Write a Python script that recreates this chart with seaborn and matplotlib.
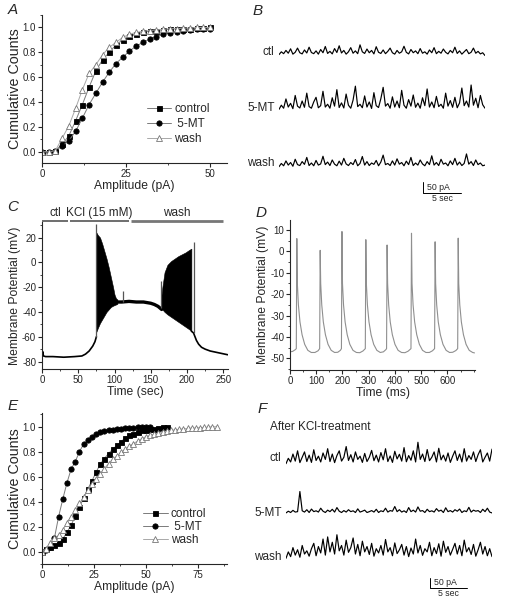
import numpy as np
import matplotlib
matplotlib.use("Agg")
import matplotlib.pyplot as plt
import seaborn as sns
from matplotlib.ticker import MultipleLocator, FixedLocator

# === A: cumulative amplitude distributions (bins of 2 pA) ===
amp_a = [0, 2, 4, 6, 8, 10, 12, 14, 16, 18, 20, 22, 24, 26, 28, 30, 32, 34, 36, 38, 40, 42, 44, 46, 48, 50]
ctl_a = [0, 0, 0.01, 0.06, 0.13, 0.25, 0.38, 0.52, 0.65, 0.74, 0.80, 0.86, 0.90, 0.93, 0.95, 0.96, 0.97,
         0.975, 0.98, 0.985, 0.99, 0.99, 0.99, 0.995, 0.995, 1.0]
mt_a = [0, 0, 0.01, 0.045, 0.09, 0.165, 0.27, 0.38, 0.47, 0.56, 0.64, 0.71, 0.76, 0.81, 0.85, 0.88, 0.905,
        0.925, 0.945, 0.955, 0.965, 0.975, 0.98, 0.985, 0.985, 0.99]
wash_a = [0, 0, 0.01, 0.11, 0.21, 0.35, 0.50, 0.63, 0.70, 0.78, 0.84, 0.88, 0.92, 0.945, 0.96, 0.97, 0.975,
          0.98, 0.985, 0.99, 0.99, 0.995, 0.995, 1.0, 1.0, 1.0]

# === E: cumulative distributions after KCl ===
amp_e_ctl = [0, 2, 4, 6, 8, 10, 12, 14, 16, 18, 20, 22, 24, 26, 28, 30, 32, 34, 36, 38, 40, 42, 44, 46, 48,
             50, 52, 54, 56, 58, 60]
ctl_e = [0, 0.02, 0.04, 0.05, 0.065, 0.10, 0.155, 0.21, 0.285, 0.355, 0.43, 0.50, 0.565, 0.635, 0.70, 0.745,
         0.785, 0.82, 0.85, 0.88, 0.91, 0.93, 0.945, 0.96, 0.97, 0.975, 0.98, 0.985, 0.99, 0.995, 1.0]
amp_e_mt = [0, 2, 4, 6, 8, 10, 12, 14, 16, 18, 20, 22, 24, 26, 28, 30, 32, 34, 36, 38, 40, 42, 44, 46, 48, 50, 52]
mt_e = [0, 0.01, 0.04, 0.11, 0.28, 0.42, 0.55, 0.66, 0.72, 0.80, 0.86, 0.89, 0.92, 0.94, 0.96, 0.965, 0.97,
        0.975, 0.98, 0.985, 0.99, 0.99, 0.99, 0.995, 0.995, 1.0, 1.0]
amp_e_wash = [0, 2, 4, 6, 8, 10, 12, 14, 16, 18, 20, 22, 24, 26, 28, 30, 32, 34, 36, 38, 40, 42, 44, 46, 48,
              50, 52, 54, 56, 58, 60, 62, 64, 66, 68, 70, 72, 74, 76, 78, 80, 82, 84]
wash_e = [0, 0.02, 0.07, 0.105, 0.13, 0.17, 0.23, 0.28, 0.33, 0.385, 0.435, 0.49, 0.54, 0.585, 0.625, 0.665,
          0.705, 0.74, 0.765, 0.795, 0.82, 0.845, 0.865, 0.885, 0.905, 0.92, 0.93, 0.94, 0.95, 0.96, 0.965,
          0.97, 0.975, 0.98, 0.983, 0.986, 0.99, 0.99, 0.993, 0.995, 0.997, 1.0, 1.0]

# === C: membrane potential during KCl application (sec, mV) ===
c_pre_t = [0, 1, 2, 5, 15, 30, 45, 55, 60, 65, 70, 73, 75]
c_pre_v = [-74.5, -72, -75.5, -76, -76, -76.5, -76, -75.5, -74, -71.5, -67.5, -64, -60]
b1_t = [75, 77, 80, 83, 86, 89, 92, 95, 98, 100, 102, 104]
b1_top = [24, 22, 20, 15, 9, 3, -4, -12, -20, -26, -29, -30]
b1_bot = [-56, -53, -49, -46, -43, -40, -38, -36, -35, -34.5, -34, -33.5]
plat_t = [102, 110, 120, 130, 140, 150, 155, 160, 163, 165]
plat_v = [-32, -32, -31.5, -32, -32, -33, -34, -35.5, -37, -38]
b2_t = [164, 166, 169, 173, 178, 183, 188, 193, 198, 203, 206]
b2_top = [-30, -20, -8, -2, 1, 3, 5, 6.5, 8, 10, 11]
b2_bot = [-37, -38, -40, -42, -44, -46, -48, -50, -52, -54, -55.5]
c_post_t = [206, 209, 211, 213, 216, 220, 225, 232, 240, 248, 256]
c_post_v = [-55.5, -57, -60, -63, -66, -68.5, -70, -71.5, -72.5, -73.5, -74.5]
c_spk_t = [75, 112, 164, 209]
c_spk_lo = [-60, -32, -37, -57]
c_spk_hi = [31, -23, -15, 16.5]
c_periods = ["ctl", "KCl (15 mM)", "wash"]
c_period_start = [0, 38, 123]
c_period_end = [36, 120.6, 249]

# === D: spontaneous firing (ms, mV) ===
d_t = [0, 10, 20, 24, 26, 28, 32, 38, 46, 56, 68, 81, 95, 107, 113,
       115, 117, 121, 127, 135, 145, 157, 170, 182, 192, 196,
       198, 200, 204, 210, 218, 228, 240, 253, 266, 278, 287,
       289, 291, 295, 301, 309, 319, 331, 344, 356, 365, 368,
       370, 372, 376, 382, 390, 400, 412, 425, 438, 450, 461,
       463, 465, 469, 475, 483, 493, 505, 518, 531, 543, 551,
       553, 555, 559, 565, 573, 583, 595, 608, 620, 632, 639,
       641, 643, 647, 653, 661, 671, 683, 696, 703]
d_v = [-47, -46.8, -46, -45.5, 6, -15, -25, -33, -39, -43.5, -46.3, -47.3, -47.3, -46.5, -45.5,
       0.5, -15, -25, -33, -39, -43.5, -46.3, -47.3, -47.2, -46.3, -45.5,
       9.3, -15, -25, -33, -39, -43.5, -46.3, -47.3, -47.4, -46.6, -45.5,
       5.5, -15, -25, -33, -39, -43.5, -46.3, -47.3, -47, -46, -45.5,
       3, -15, -25, -33, -39, -43.5, -46.3, -47.3, -47.4, -46.7, -45.5,
       8.5, -15, -25, -33, -39, -43.5, -46.3, -47.3, -47.3, -46.5, -45.5,
       4.5, -15, -25, -33, -39, -43.5, -46.3, -47.3, -47.2, -46.4, -45.5,
       6.2, -15, -25, -33, -39, -43.5, -46.3, -47.3, -47.5]

# === B / F: current traces (pA, ~28 s each) ===
trace_names = ["ctl", "5-MT", "wash"]
b_ctl = [0, 12, 4, 18, 6, 25, 2, 10, 28, 8, 3, 20, 7, 32, 9, 4, 16, 2, 22, 8, 35, 5, 14, 3, 26, 9, 38, 7, 18,
         2, 12, 30, 6, 16, 4, 42, 12, 5, 24, 8, 18, 3, 34, 10, 5, 20, 4, 14, 28, 8, 2, 18, 6, 12, 36, 10, 3,
         22, 8, 16, 4, 26, 6, 12, 2, 20, 8, 30, 4, 14, 6, 24, 10, 3, 18, 8, 32, 5, 16, 2, 12, 22, 4, 10, 28,
         6, 14, 3, 8, -4]
b_mt = [0, 18, 5, 45, 10, 26, 3, 60, 14, 6, 36, 9, 70, 12, 5, 32, 52, 7, 16, 78, 10, 22, 5, 50, 14, 85, 8, 28,
        6, 66, 18, 5, 40, 100, 12, 22, 7, 58, 10, 32, 4, 72, 16, 8, 46, 95, 14, 25, 5, 54, 10, 36, 7, 82, 18,
        5, 42, 14, 62, 9, 27, 5, 50, 16, 88, 10, 32, 7, 56, 12, 22, 5, 70, 14, 38, 9, 52, 7, 28, 92, 16, 36,
        10, 105, 18, 48, 7, 60, 20, 5]
b_wash = [0, 14, 4, 25, 7, 18, 2, 32, 9, 5, 22, 10, 40, 5, 16, 4, 27, 7, 12, 45, 9, 20, 5, 29, 11, 4, 24, 7,
          36, 12, 5, 18, 9, 31, 4, 14, 44, 7, 22, 5, 16, 10, 27, 4, 20, 50, 9, 14, 5, 25, 7, 34, 11, 18, 4,
          24, 9, 40, 5, 16, 7, 29, 12, 4, 22, 9, 47, 7, 18, 5, 32, 11, 16, 4, 25, 9, 36, 7, 20, 5, 14, 55,
          11, 22, 5, 29, 9, 16, 4, 7]
f_ctl = [0, 25, 8, 45, 12, 60, 5, 30, 55, 10, 40, 6, 65, 15, 35, 8, 50, 20, 70, 10, 45, 5, 38, 60, 12, 30,
         80, 15, 42, 8, 55, 20, 35, 6, 48, 10, 30, 62, 14, 40, 8, 52, 18, 70, 10, 36, 6, 58, 22, 44, 12, 75,
         9, 38, 16, 60, 8, 100, 20, 45, 10, 66, 14, 30, 55, 8, 72, 18, 40, 12, 50, 6, 35, 60, 15, 45, 8, 70,
         12, 38, 20, 55, 10, 42, 65, 8, 30, 50, 12, 68]
f_mt = [0, 8, 2, 12, 4, 6, 100, 10, 4, 15, 2, 18, 6, 10, 4, 22, 8, 2, 13, 6, 17, 4, 25, 8, 2, 11, 4, 15, 6,
        10, 2, 19, 4, 8, 13, 2, 6, 11, 4, 17, 2, 10, 6, 22, 4, 11, 8, 30, 6, 15, 4, 10, 2, 25, 6, 13, 4, 28,
        8, 11, 2, 17, 6, 10, 4, 20, 8, 13, 2, 24, 6, 11, 4, 15, 8, 18, 2, 10, 6, 26, 4, 13, 8, 11, 2, 17, 6,
        22, 4, 0]
f_wash = [0, 30, 8, 50, 15, 40, 5, 60, 20, 35, 10, 45, 70, 12, 55, 25, 90, 15, 100, 30, 75, 20, 110, 35, 60,
          15, 85, 28, 50, 95, 20, 65, 12, 80, 30, 55, 18, 70, 10, 45, 25, 60, 15, 88, 30, 50, 12, 72, 22, 40,
          65, 15, 55, 8, 48, 20, 90, 25, 60, 14, 45, 30, 75, 12, 50, 22, 68, 10, 80, 28, 55, 15, 42, 70, 20,
          60, 12, 85, 30, 50, 18, 65, 10, 40, 75, 20, 55, 12, 45, 8]

# === Estilo ===
sns.set_style("ticks")
plt.rcParams["font.family"] = ["Liberation Sans", "DejaVu Sans"]
plt.rcParams["axes.unicode_minus"] = False
plt.rcParams["axes.linewidth"] = 0.8

W, H = 507, 602
fig = plt.figure(figsize=(W / 100, H / 100), dpi=100)


def px_axes(x0, y0, x1, y1):
    # rectangle given in image pixels (top-left origin)
    return fig.add_axes([x0 / W, 1 - y1 / H, (x1 - x0) / W, (y1 - y0) / H])


def style_axis(ax, xmaj, xmin, ymaj, ymin):
    sns.despine(ax=ax)
    ax.xaxis.set_major_locator(MultipleLocator(xmaj))
    ax.xaxis.set_minor_locator(MultipleLocator(xmin))
    ax.yaxis.set_major_locator(MultipleLocator(ymaj))
    ax.yaxis.set_minor_locator(MultipleLocator(ymin))
    ax.tick_params(which="major", direction="out", length=3, width=0.8, labelsize=7, pad=1.2)
    ax.tick_params(which="minor", direction="out", length=1.6, width=0.6)


def cum_panel(ax, series, legend_xy, spacing):
    styles = [
        dict(marker="s", markersize=3.6, markerfacecolor="black", markeredgecolor="black", color="#7a7a7a"),
        dict(marker="o", markersize=3.8, markerfacecolor="black", markeredgecolor="black", color="#7a7a7a"),
        dict(marker="^", markersize=4.3, markerfacecolor="white", markeredgecolor="#777777", color="#a8a8a8"),
    ]
    for (x, y, lab), st in zip(series, styles):
        sns.lineplot(x=x, y=y, ax=ax, lw=0.7, markeredgewidth=0.6, label=lab,
                     estimator=None, sort=False, **st)
    ax.legend(loc="upper left", bbox_to_anchor=legend_xy, frameon=False, fontsize=8.5,
              borderpad=0, borderaxespad=0, handlelength=2.1, handletextpad=0.25,
              labelspacing=spacing)
    ax.set_xlabel("Amplitude (pA)", fontsize=8.7, labelpad=1)
    ax.set_ylabel("Cumulative Counts", fontsize=10.3, labelpad=0.5)


# === A ===
axA = px_axes(42, 15, 227, 163)
cum_panel(axA, [(amp_a, ctl_a, "control"), (amp_a, mt_a, " 5-MT"), (amp_a, wash_a, "wash")],
          (0.565, 0.405), 0.25)
axA.set_xlim(0, 55)
axA.set_ylim(-0.09, 1.1)
style_axis(axA, 25, 12.5, 0.2, 0.1)

# === E ===
axE = px_axes(42, 413, 227, 564)
cum_panel(axE, [(amp_e_ctl, ctl_e, "control"), (amp_e_mt, mt_e, " 5-MT"), (amp_e_wash, wash_e, "wash")],
          (0.545, 0.37), 0.1)
axE.set_xlim(0, 89)
axE.set_ylim(-0.1, 1.11)
style_axis(axE, 25, 12.5, 0.2, 0.1)

# === C ===
axC = px_axes(42, 222, 228, 369)
sns.lineplot(x=c_pre_t, y=c_pre_v, ax=axC, color="black", lw=1.2, estimator=None, sort=False)
axC.fill_between(b1_t, b1_bot, b1_top, color="black", lw=0.4)
sns.lineplot(x=plat_t, y=plat_v, ax=axC, color="black", lw=2.4, estimator=None, sort=False)
axC.fill_between(b2_t, b2_bot, b2_top, color="black", lw=0.4)
sns.lineplot(x=c_post_t, y=c_post_v, ax=axC, color="black", lw=1.2, estimator=None, sort=False)
axC.vlines(c_spk_t, c_spk_lo, c_spk_hi, color="#555555", lw=0.9)
axC.set_xlim(0, 256.5)
axC.set_ylim(-86, 32.5)
style_axis(axC, 50, 25, 20, 10)
axC.set_xlabel("Time (sec)", fontsize=8.7, labelpad=1)
axC.set_ylabel("Membrane Potential (mV)", fontsize=8.7, labelpad=1)
for name, s, e in zip(c_periods, c_period_start, c_period_end):
    lw, col = (2.0, "#777777") if name == "wash" else (1.2, "#555555")
    axC.plot([s, e], [33.3, 33.3], color=col, lw=lw, clip_on=False, solid_capstyle="butt")
    axC.text((s + e) / 2, 35, name, ha="center", va="bottom", fontsize=8.5)

# === D ===
axD = px_axes(290, 220, 475, 370)
sns.lineplot(x=d_t, y=d_v, ax=axD, color="#8f8f8f", lw=0.8, estimator=None, sort=False)
axD.set_xlim(0, 705)
axD.set_ylim(-55.5, 14.7)
style_axis(axD, 100, 50, 10, 5)
axD.xaxis.set_major_locator(FixedLocator([0, 100, 200, 300, 400, 500, 600]))
axD.set_xlabel("Time (ms)", fontsize=8.7, labelpad=1)
axD.set_ylabel("Membrane Potential (mV)", fontsize=8.7, labelpad=1)


# === B / F traces ===
def trace_panel(ax, traces, offsets, label_y, dur, bar):
    for vals, off in zip(traces, offsets):
        t = np.linspace(0, dur, len(vals))
        sns.lineplot(x=t, y=np.asarray(vals) + off, ax=ax, color="black", lw=0.85,
                     estimator=None, sort=False)
    for name, ly in zip(trace_names, label_y):
        ax.text(-0.6, ly, name, ha="right", va="center", fontsize=8.5)
    bx, by = bar
    ax.plot([bx, bx, bx + 5], [by + 50, by, by], color="black", lw=0.7, clip_on=False)
    ax.text(bx + 0.5, by + 26, "50 pA", ha="left", va="center", fontsize=6.3)
    ax.text(bx + 2.5, by - 4, "5 sec", ha="center", va="top", fontsize=6.3)
    ax.axis("off")


axB = px_axes(279, 30, 485, 205)
axB.set_xlim(0, 27.8)
axB.set_ylim(0, 754)
trace_panel(axB, [b_ctl, b_mt, b_wash], [648, 412, 165], [661, 418, 181], 27.8, (19.5, 50))

axF = px_axes(286, 420, 492, 602)
axF.set_xlim(0, 28.06)
axF.set_ylim(0, 850)
trace_panel(axF, [f_ctl, f_mt, f_wash], [646, 416, 204], [673, 416, 210], 28.06, (19.6, 64))
axF.text(-2.2, 818, "After KCl-treatment", ha="left", va="center", fontsize=8.5)

# === Panel letters ===
for letter, (x, y) in zip("ABCDEF", [(13, 10), (258, 11), (13, 207), (261, 213), (13, 406), (262, 409)]):
    fig.text(x / W, 1 - y / H, letter, ha="center", va="center", fontsize=11, style="italic")

fig.savefig("out.png", dpi=100)
